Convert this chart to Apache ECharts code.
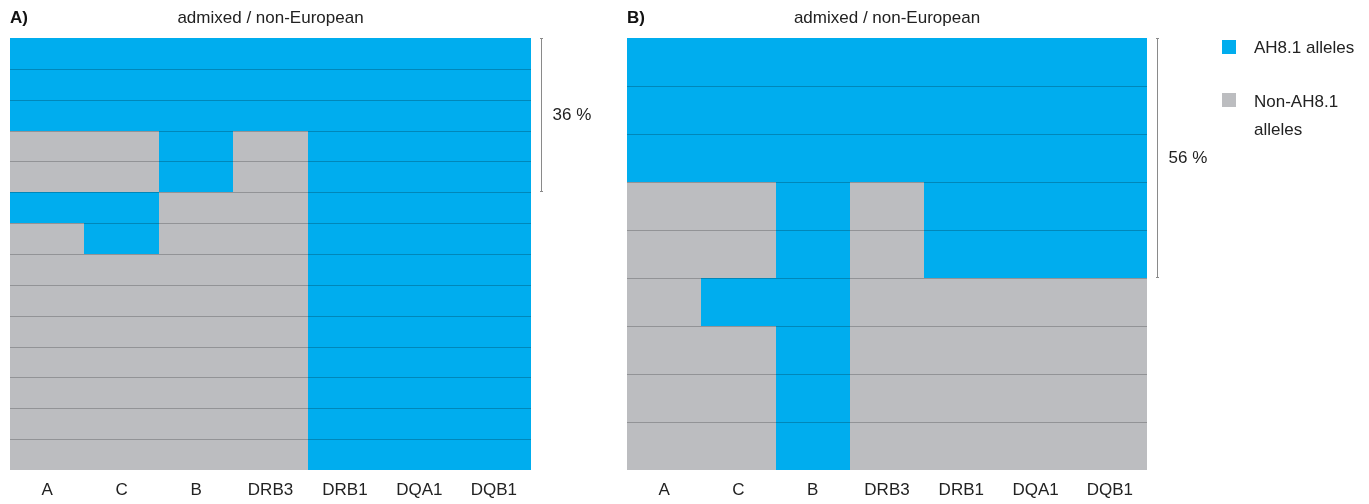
<!DOCTYPE html>
<html>
<head>
<meta charset="utf-8">
<script src="https://cdn.jsdelivr.net/npm/echarts@6/dist/echarts.min.js"></script>
<style>
  html, body { margin: 0; padding: 0; background: #fff; }
  #chart { width: 1369px; height: 504px; }
</style>
</head>
<body>
<div id="chart"></div>
<script>
// HLA loci in haplotype order
const loci = ['A', 'C', 'B', 'DRB3', 'DRB1', 'DQA1', 'DQB1'];

// One row per haplotype: 1 = AH8.1 allele at that locus, 0 = non-AH8.1 allele
const haplotypesA = [
  [1, 1, 1, 1, 1, 1, 1],
  [1, 1, 1, 1, 1, 1, 1],
  [1, 1, 1, 1, 1, 1, 1],
  [0, 0, 1, 0, 1, 1, 1],
  [0, 0, 1, 0, 1, 1, 1],
  [1, 1, 0, 0, 1, 1, 1],
  [0, 1, 0, 0, 1, 1, 1],
  [0, 0, 0, 0, 1, 1, 1],
  [0, 0, 0, 0, 1, 1, 1],
  [0, 0, 0, 0, 1, 1, 1],
  [0, 0, 0, 0, 1, 1, 1],
  [0, 0, 0, 0, 1, 1, 1],
  [0, 0, 0, 0, 1, 1, 1],
  [0, 0, 0, 0, 1, 1, 1]
];

const haplotypesB = [
  [1, 1, 1, 1, 1, 1, 1],
  [1, 1, 1, 1, 1, 1, 1],
  [1, 1, 1, 1, 1, 1, 1],
  [0, 0, 1, 0, 1, 1, 1],
  [0, 0, 1, 0, 1, 1, 1],
  [0, 1, 1, 0, 0, 0, 0],
  [0, 0, 1, 0, 0, 0, 0],
  [0, 0, 1, 0, 0, 0, 0],
  [0, 0, 1, 0, 0, 0, 0]
];

// Share of haplotypes carrying the AH8.1 class II block, and rows it spans
const shareA = 36;
const bracketRowsA = 5;
const shareB = 56;
const bracketRowsB = 5;

const panelTitles = ['A)', 'B)'];
const groupTitle = 'admixed / non-European';
const seriesNames = ['AH8.1 alleles', 'Non-AH8.1 alleles'];

const BLUE = '#00adee';
const GRAY = '#bcbdc0';
const FONT = '"Liberation Sans", Arial, sans-serif';

function cellSeries(name, color, matrix, flag, gi) {
  const data = [];
  matrix.forEach((row, r) => row.forEach((v, c) => { if (v === flag) data.push([c, r]); }));
  return {
    type: 'custom',
    name: name,
    xAxisIndex: gi,
    yAxisIndex: gi,
    silent: true,
    itemStyle: { color: color },
    data: data,
    renderItem: function (params, api) {
      const c = api.value(0), r = api.value(1);
      const top = api.coord([c, r]);
      const bottom = api.coord([c, r + 1]);
      const w = api.size([1, 0])[0];
      const x0 = Math.round(top[0] - w / 2);
      const x1 = Math.round(top[0] + w / 2);
      const y0 = Math.round(top[1]);
      const y1 = Math.round(bottom[1]);
      const children = [{
        type: 'rect',
        shape: { x: x0, y: y0, width: x1 - x0, height: y1 - y0 },
        style: { fill: color }
      }];
      if (r > 0) {
        children.push({
          type: 'line',
          shape: { x1: x0, y1: y0 + 0.5, x2: x1, y2: y0 + 0.5 },
          style: { stroke: 'rgba(0,0,0,0.22)', lineWidth: 1 }
        });
      }
      return { type: 'group', children: children };
    }
  };
}

function bracketSeries(share, rows, gi) {
  return {
    type: 'custom',
    xAxisIndex: gi,
    yAxisIndex: gi,
    silent: true,
    data: [[loci.length - 1, rows, share]],
    renderItem: function (params, api) {
      const top = api.coord([api.value(0), 0]);
      const bottom = api.coord([api.value(0), api.value(1)]);
      const x = Math.round(top[0] + api.size([1, 0])[0] / 2) + 10.5;
      const y0 = Math.round(top[1]);
      const y1 = Math.round(bottom[1]);
      return {
        type: 'group',
        children: [
          { type: 'line', shape: { x1: x, y1: y0, x2: x, y2: y1 },
            style: { stroke: '#8a8a8a', lineWidth: 1 } },
          { type: 'line', shape: { x1: x - 1.5, y1: y0 + 0.5, x2: x + 1.5, y2: y0 + 0.5 },
            style: { stroke: '#8a8a8a', lineWidth: 1 } },
          { type: 'line', shape: { x1: x - 1.5, y1: y1 - 0.5, x2: x + 1.5, y2: y1 - 0.5 },
            style: { stroke: '#8a8a8a', lineWidth: 1 } },
          { type: 'text', x: x + 11, y: (y0 + y1) / 2,
            style: { text: api.value(2) + ' %', fill: '#222', font: '17px ' + FONT,
                     align: 'left', verticalAlign: 'middle' } }
        ]
      };
    }
  };
}

const grids = [
  { left: 10, top: 38, width: 521, height: 432 },
  { left: 627, top: 38, width: 520, height: 432 }
];
const panels = [haplotypesA, haplotypesB];

const chart = echarts.init(document.getElementById('chart'));

const option = {
  animation: false,
  backgroundColor: '#fff',
  grid: grids,
  xAxis: grids.map((g, i) => ({
    type: 'category',
    gridIndex: i,
    data: loci,
    axisLine: { show: false },
    axisTick: { show: false },
    splitLine: { show: false },
    axisLabel: { color: '#222', fontSize: 17, fontFamily: FONT, margin: 12 }
  })),
  yAxis: grids.map((g, i) => ({
    type: 'value',
    gridIndex: i,
    min: 0,
    max: panels[i].length,
    inverse: true,
    show: false
  })),
  series: [
    cellSeries(seriesNames[0], BLUE, haplotypesA, 1, 0),
    cellSeries(seriesNames[1], GRAY, haplotypesA, 0, 0),
    cellSeries(seriesNames[0], BLUE, haplotypesB, 1, 1),
    cellSeries(seriesNames[1], GRAY, haplotypesB, 0, 1),
    bracketSeries(shareA, bracketRowsA, 0),
    bracketSeries(shareB, bracketRowsB, 1)
  ],
  graphic: [
    // panel letters and headings
    ...grids.map((g, i) => ({
      type: 'text', x: g.left, y: 18,
      style: { text: panelTitles[i], fill: '#111', font: 'bold 17px ' + FONT,
               align: 'left', verticalAlign: 'middle' }
    })),
    ...grids.map((g) => ({
      type: 'text', x: g.left + g.width / 2, y: 18,
      style: { text: groupTitle, fill: '#222', font: '17px ' + FONT,
               align: 'center', verticalAlign: 'middle' }
    })),
    // legend
    { type: 'rect', shape: { x: 1222, y: 40, width: 14, height: 14 }, style: { fill: BLUE } },
    { type: 'text', x: 1254, y: 48,
      style: { text: seriesNames[0], fill: '#222', font: '17px ' + FONT,
               align: 'left', verticalAlign: 'middle' } },
    { type: 'rect', shape: { x: 1222, y: 93, width: 14, height: 14 }, style: { fill: GRAY } },
    { type: 'text', x: 1254, y: 88,
      style: { text: 'Non-AH8.1\nalleles', fill: '#222', font: '17px ' + FONT,
               lineHeight: 28, align: 'left', verticalAlign: 'top' } }
  ]
};

chart.setOption(option);
</script>
</body>
</html>
